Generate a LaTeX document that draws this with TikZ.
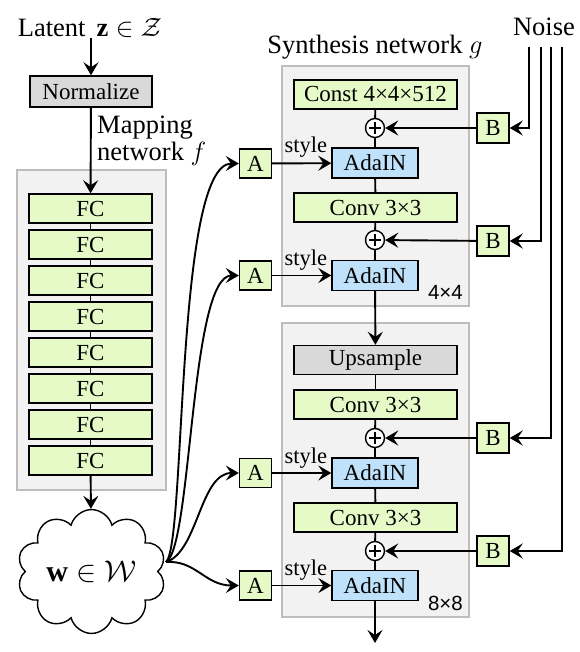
\RequirePackage{fix-cm}
\documentclass[tikz,border=0pt]{standalone}
\usepackage{fontspec}
\setmainfont{Liberation Serif}
\newfontfamily\labsans{Liberation Sans}
\usetikzlibrary{arrows.meta,shapes.symbols}
\definecolor{boxgreen}{HTML}{E6FAC8}
\definecolor{boxblue}{HTML}{BFE2FA}
\definecolor{boxgray}{HTML}{D9D9D9}
\definecolor{contfill}{HTML}{F2F2F2}
\definecolor{contdraw}{HTML}{BDBDBD}
\begin{document}
\begin{tikzpicture}[x=1pt,y=-1pt,
  arr/.style={line width=1.9pt,-{Stealth[length=13pt,width=15pt,inset=5pt]}},
  conn/.style={line width=1.9pt},
  blk/.style={draw, line width=1.4pt, minimum height=29pt, inner sep=0pt, font=\fontsize{23}{26}\selectfont},
  greenbox/.style={blk, fill=boxgreen},
  bluebox/.style={blk, fill=boxblue, minimum width=86pt, minimum height=30pt},
  graybox/.style={blk, fill=boxgray},
  wide/.style={minimum width=163pt},
  abox/.style={greenbox, minimum width=32pt},
  plusc/.style={circle, draw, fill=white, line width=1.4pt, minimum size=19pt, inner sep=0pt},
  cont/.style={fill=contfill, draw=contdraw, line width=1.3pt},
  lbl/.style={font=\fontsize{26.5}{30}\selectfont, inner sep=0pt},
  small/.style={font=\fontsize{22.5}{25}\selectfont, inner sep=0pt},
  res/.style={font=\labsans\fontsize{20.5}{23}\selectfont, inner sep=0pt}
]
\useasboundingbox (0,0) rectangle (579,652);

% containers
\draw[cont] (17,170) rectangle (166,490);
\draw[cont] (282,66) rectangle (469,306);
\draw[cont] (282,323) rectangle (469,617);

% titles
\node[lbl, anchor=base] (latent) at (90,37) {Latent \,$\mathbf{z}\in\mathcal{Z}$};
\node[lbl, anchor=base west] (map1) at (97,134) {Mapping};
\node[lbl, anchor=base west] (map2) at (97,161) {network $f$};
\node[lbl, anchor=base] (synt) at (375,54) {Synthesis network $g$};
\node[lbl, anchor=base] (noise) at (544,36) {Noise};

% mapping network
\node[graybox, minimum width=122pt, minimum height=31pt] (norm) at (91,91.5) {Normalize};
\foreach \i in {1,...,8} {
  \node[greenbox, minimum width=123pt] (fc\i) at (90.5,{172.5+36*\i}) {FC};
}
\foreach \i [evaluate=\i as \j using int(\i+1)] in {1,...,7} {
  \draw[conn] (fc\i) -- (fc\j);
}
\node[cloud, draw, fill=white, cloud puffs=10, aspect=1.3, line width=1.4pt, minimum width=149pt, minimum height=117pt, inner sep=0pt, font=\fontsize{30}{32}\selectfont] (w) at (91.5,571.5) {$\mathbf{w}\in\mathcal{W}$};

\draw[arr] (norm.north |- latent.south) -- (norm.north);
\draw[arr] (norm) -- (fc1);
\draw[arr] (fc8) -- (w);

% synthesis block 1
\node[greenbox, wide] (const) at (375.5,94.5) {Const 4×4×512};
\node[plusc] (p1) at (375,128) {};
\node[bluebox] (ada1) at (375,163) {AdaIN};
\node[greenbox, wide] (conv1) at (375.5,207.5) {Conv 3×3};
\node[plusc] (p2) at (375,240) {};
\node[bluebox] (ada2) at (375,275.5) {AdaIN};
\node[res, anchor=base east] (r4) at (463,299) {4×4};

% synthesis block 2
\node[graybox, wide] (up) at (375.5,360) {Upsample};
\node[greenbox, wide] (conv2) at (375.5,404.5) {Conv 3×3};
\node[plusc] (p3) at (375,438) {};
\node[bluebox] (ada3) at (375,473) {AdaIN};
\node[greenbox, wide] (conv3) at (375.5,517.5) {Conv 3×3};
\node[plusc] (p4) at (375,551) {};
\node[bluebox] (ada4) at (375,585.5) {AdaIN};
\node[res, anchor=base east] (r8) at (463,610) {8×8};
\coordinate (out) at (375,643);

\foreach \p in {p1,p2,p3,p4} {
  \draw[line width=1.3pt] ([yshift=-6pt]\p.center) -- ([yshift=6pt]\p.center);
  \draw[line width=1.3pt] ([xshift=-6pt]\p.center) -- ([xshift=6pt]\p.center);
}

\draw[conn] (const) -- (p1);
\draw[conn] (p1) -- (ada1);
\draw[conn] (ada1) -- (conv1);
\draw[conn] (conv1) -- (p2);
\draw[conn] (p2) -- (ada2);
\draw[arr] (ada2) -- (up);
\draw[conn] (up) -- (conv2);
\draw[conn] (conv2) -- (p3);
\draw[conn] (p3) -- (ada3);
\draw[conn] (ada3) -- (conv3);
\draw[conn] (conv3) -- (p4);
\draw[conn] (p4) -- (ada4);
\draw[arr] (ada4) -- (out);

% A boxes
\node[abox] (a1) at (255.5,163.5) {A};
\node[abox] (a2) at (255.5,275.5) {A};
\node[abox] (a3) at (255.5,473) {A};
\node[abox] (a4) at (255.5,585.5) {A};
\foreach \a/\d in {a1/ada1,a2/ada2,a3/ada3,a4/ada4} {
  \draw[arr] (\a) -- (\d);
  \node[small, anchor=base east] at ([xshift=-4pt,yshift=10pt]\d.west) {style};
}

% curves from w
\coordinate (ws) at (166,562);
\draw[arr] (ws) .. controls (186,545) and (175,163.5) .. (a1.west);
\draw[arr] (ws) .. controls (192,548) and (190,275.5) .. (a2.west);
\draw[arr] (ws) .. controls (198,552) and (200,473) .. (a3.west);
\draw[arr] (ws) .. controls (196,560) and (205,585.5) .. (a4.west);

% B boxes and noise
\node[abox, minimum height=30pt] (b1) at (493,128) {B};
\node[abox, minimum height=30pt] (b2) at (493,241) {B};
\node[abox, minimum height=30pt] (b3) at (493,438) {B};
\node[abox, minimum height=30pt] (b4) at (493,551) {B};
\draw[arr] (b1) -- (p1);
\draw[arr] (b2) -- (p2);
\draw[arr] (b3) -- (p3);
\draw[arr] (b4) -- (p4);
\coordinate (n1) at (529,47);
\coordinate (n2) at (541,47);
\coordinate (n3) at (551,47);
\coordinate (n4) at (562,47);
\draw[arr] (n1) |- (b1.east);
\draw[arr] (n2) |- (b2.east);
\draw[arr] (n3) |- (b3.east);
\draw[arr] (n4) |- (b4.east);
\end{tikzpicture}
\end{document}
